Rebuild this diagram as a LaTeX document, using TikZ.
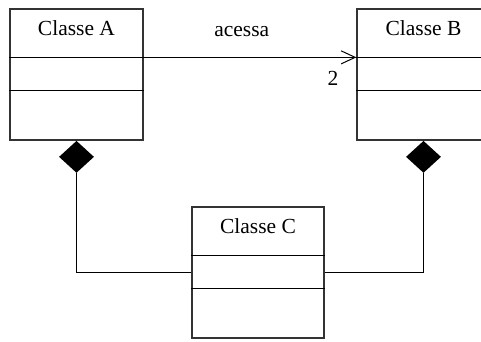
\documentclass[tikz,border=0pt]{standalone}
\usepackage{fontspec}
\setmainfont{Liberation Serif}
\usetikzlibrary{arrows.meta,shapes.geometric}
\tikzset{
  classbox/.style={draw=black!80, line width=1.3pt, rectangle, minimum width=133pt, minimum height=131pt, inner sep=0pt},
  divider/.style={draw=black, line width=1pt},
  title/.style={anchor=base, inner sep=0pt, font=\fontsize{21.5}{24}\selectfont},
  label/.style={anchor=base, inner sep=0pt, font=\fontsize{21.5}{24}\selectfont},
  composite/.style={diamond, fill=black, draw=none, minimum width=35pt, minimum height=32pt, inner sep=0pt, anchor=north},
  link/.style={draw=black, line width=1pt}
}
\begin{document}
\begin{tikzpicture}[x=1pt,y=-1pt]
\useasboundingbox (0,0) rectangle (481,341);
\clip (0,0) rectangle (481,341);

% class boxes
\node[classbox] (A) at (76.5,74.5) {};
\node[classbox] (B) at (423.5,74.5) {};
\node[classbox, minimum width=132pt] (C) at (258,272.5) {};

% compartment lines
\foreach \c in {A,B,C}{
  \path (\c.north west) ++(0,49) coordinate (\c l1) ++(0,33) coordinate (\c l2);
  \path (\c.north east) ++(0,49) coordinate (\c r1) ++(0,33) coordinate (\c r2);
  \draw[divider] (\c l1) -- (\c r1);
  \draw[divider] (\c l2) -- (\c r2);
}

% class names, baseline 27pt below the top edge
\node[title] (tA) at ([yshift=-27pt]A.north) {Classe A};
\node[title] (tB) at ([yshift=-27pt]B.north) {Classe B};
\node[title] (tC) at ([yshift=-27pt]C.north) {Classe C};

% association A -> B
\draw[link, -{Straight Barb[length=14pt, width=13pt, line width=1pt]}] (Ar1) -- (Bl1);
\node[label] (acessa) at (241.7,36.7) {acessa};
\node[label] (mult) at (333,85) {2};

% composition diamonds and their links to C
\node[composite] (dA) at (A.south) {};
\node[composite] (dB) at (B.south) {};
\draw[link] (dA.south) |- (C.west);
\draw[link] (dB.south) |- (C.east);
\end{tikzpicture}
\end{document}
